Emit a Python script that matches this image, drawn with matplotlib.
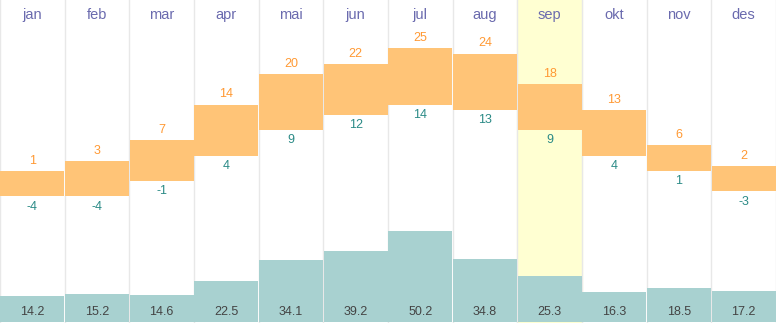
import numpy as np
import matplotlib.pyplot as plt
from matplotlib.transforms import blended_transform_factory

plt.rcParams['font.family'] = ['Liberation Sans', 'DejaVu Sans']

months = ["jan", "feb", "mar", "apr", "mai", "jun", "jul", "aug", "sep", "okt", "nov", "des"]
temp_max = [1, 3, 7, 14, 20, 22, 25, 24, 18, 13, 6, 2]
temp_min = [-4, -4, -1, 4, 9, 12, 14, 13, 9, 4, 1, -3]
rain = [14.2, 15.2, 14.6, 22.5, 34.1, 39.2, 50.2, 34.8, 25.3, 16.3, 18.5, 17.2]
highlight = "sep"

x = np.arange(len(months))
tmax = np.array(temp_max)
tmin = np.array(temp_min)

fig = plt.figure(figsize=(7.76, 3.23), dpi=100)
ax = fig.add_axes([0, 0, 1, 1])
ax2 = ax.twinx()

ax.set_xlim(-0.5, len(months) - 0.5)
ax.set_ylim(-28.8, 34.5)
ax2.set_ylim(-0.55, 176.9)

# highlighted month column + column separators
hi = months.index(highlight)
ax.axvspan(hi - 0.5, hi + 0.5, color="#ffffd2", zorder=0)
for b in np.arange(-0.5, len(months), 1.0):
    ax.axvline(b, color="#e8e8e8", lw=1, zorder=0.5)

# temperature range boxes
ax.bar(x, tmax - tmin, bottom=tmin, width=0.985, color="#ffc477", zorder=2)
for i in range(len(months)):
    ax.annotate(str(temp_max[i]), (x[i], tmax[i]), xytext=(0, 3), textcoords="offset points",
                ha="center", va="bottom", color="#ff9933", fontsize=9)
    ax.annotate(str(temp_min[i]), (x[i], tmin[i]), xytext=(0, -3), textcoords="offset points",
                ha="center", va="top", color="#2a8a86", fontsize=9)

# precipitation bars
ax2.bar(x, rain, width=0.985, color="#a8d1d0", zorder=2)
tr = blended_transform_factory(ax2.transData, ax2.transAxes)
for i in range(len(months)):
    ax2.text(x[i], 0.035, f"{rain[i]:.1f}", transform=tr, ha="center", va="center",
             color="#444444", fontsize=9)

trm = blended_transform_factory(ax.transData, ax.transAxes)
for i, m in enumerate(months):
    ax.text(x[i], 0.955, m, transform=trm, ha="center", va="center",
            color="#6a6aae", fontsize=10.5)

for a in (ax, ax2):
    a.set_xticks([])
    a.set_yticks([])
    for s in a.spines.values():
        s.set_visible(False)

fig.savefig("out.png", dpi=100)
